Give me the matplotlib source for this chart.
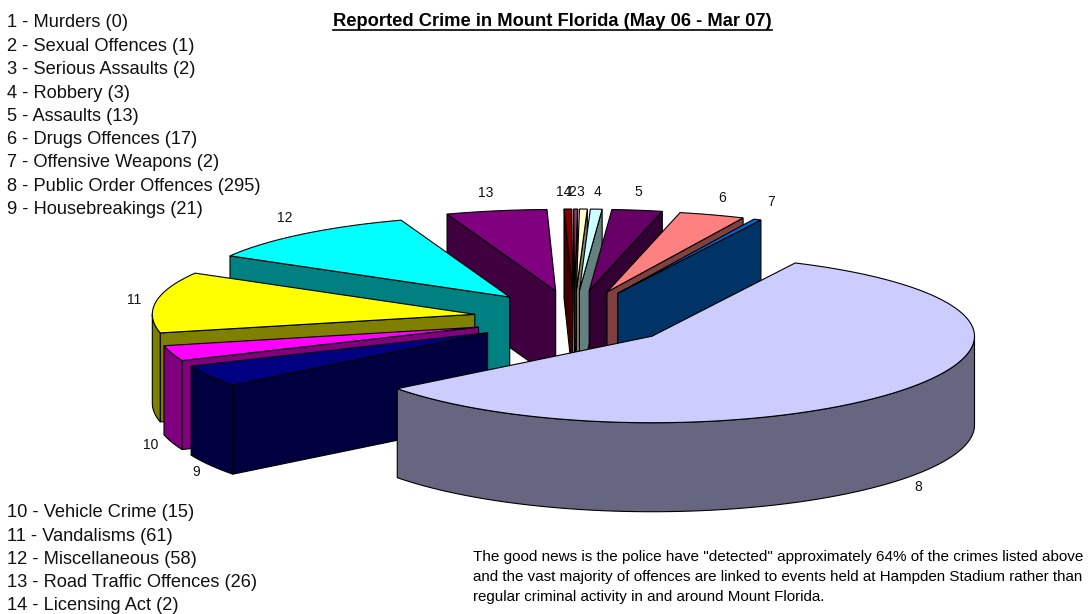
import math
import matplotlib
matplotlib.use("Agg")
import matplotlib.pyplot as plt
from matplotlib.patches import Polygon

plt.rcParams['font.family'] = ['Liberation Sans', 'DejaVu Sans']

# the chart data
names = ["Murders", "Sexual Offences", "Serious Assaults", "Robbery", "Assaults",
         "Drugs Offences", "Offensive Weapons", "Public Order Offences", "Housebreakings",
         "Vehicle Crime", "Vandalisms", "Miscellaneous", "Road Traffic Offences", "Licensing Act"]
counts = [0, 1, 2, 3, 13, 17, 2, 295, 21, 15, 61, 58, 26, 2]
top_colors = ["#9999FF", "#993366", "#FFFFCC", "#CCFFFF", "#660066", "#FF8080", "#0066CC",
              "#CCCCFF", "#000080", "#FF00FF", "#FFFF00", "#00FFFF", "#800080", "#800000"]

title = "Reported Crime in Mount Florida (May 06 - Mar 07)"
note = ['The good news is the police have "detected" approximately 64% of the crimes listed above',
        'and the vast majority of offences are linked to events held at Hampden Stadium rather than',
        'regular criminal activity in and around Mount Florida.']

# pie geometry in pixels
cx, cy = 574.2, 318.5
explode_x, explode_y = 100.5, 28.0
rx, ry = 322.5, 84.0
persp = 2.5
depth = 89.0
start_angle = -0.15

# where Excel put the slice numbers
label_x = [570, 572, 580, 598, 638, 722, 771, 918, 196, 151, 134, 285, 486, 564]
label_y = [192, 192, 192, 192, 192, 198, 202, 487, 472, 445, 300, 218, 193, 192]
list_y = [27, 51, 74, 98, 121, 144, 167, 191, 214, 517, 541, 564, 587, 610]

fig = plt.figure(figsize=(10.88, 6.14), dpi=100)
ax = fig.add_axes([0, 0, 1, 1])
ax.set_xlim(0, 1088)
ax.set_ylim(614, 0)
ax.axis("off")


def rim(ax_x, ax_y, angle):
    # point on the pie edge, angle is clockwise from the top
    s = math.sin(math.radians(angle))
    c = math.cos(math.radians(angle))
    return ax_x + rx * s, ax_y - ry * c + persp * c * c


def darker(color):
    r, g, b = matplotlib.colors.to_rgb(color)
    return (r * 0.5, g * 0.5, b * 0.5)


def add_poly(points, color):
    ax.add_patch(Polygon(points, closed=True, facecolor=color, edgecolor="black", linewidth=0.8))


# work out the angles for every slice
total = sum(counts)
slices = []
running = 0
for i, v in enumerate(counts):
    a1 = start_angle + running / total * 360
    a2 = start_angle + (running + v) / total * 360
    running += v
    slices.append((i, a1, a2))

# draw back to front
slices.sort(key=lambda t: -math.cos(math.radians((t[1] + t[2]) / 2)))

for i, a1, a2 in slices:
    if counts[i] == 0:
        continue
    mid = math.radians((a1 + a2) / 2)
    ox = cx + explode_x * math.sin(mid)
    oy = cy - explode_y * math.cos(mid)
    steps = max(2, int((a2 - a1) / 1.5))
    arc = [a1 + (a2 - a1) * k / steps for k in range(steps + 1)]
    side = darker(top_colors[i])

    # flat cut faces
    if math.sin(math.radians(a1)) < 0:
        p = rim(ox, oy, a1)
        add_poly([(ox, oy), p, (p[0], p[1] + depth), (ox, oy + depth)], side)
    if math.sin(math.radians(a2)) > 0:
        p = rim(ox, oy, a2)
        add_poly([(ox, oy), p, (p[0], p[1] + depth), (ox, oy + depth)], side)

    # outer wall, only the part that faces us
    w1, w2 = max(a1, 90), min(a2, 270)
    if w2 > w1:
        n = max(2, int((w2 - w1) / 1.5))
        upper = [rim(ox, oy, w1 + (w2 - w1) * k / n) for k in range(n + 1)]
        lower = [(x, y + depth) for x, y in reversed(upper)]
        add_poly(upper + lower, side)

    # top of the slice
    add_poly([(ox, oy)] + [rim(ox, oy, t) for t in arc], top_colors[i])

# slice numbers
for i in range(len(counts)):
    ax.text(label_x[i], label_y[i], str(i + 1), fontsize=10, color="#111111", ha="center", va="center")

# list of crimes
for i in range(len(counts)):
    ax.text(7, list_y[i], f"{i + 1} - {names[i]} ({counts[i]})", fontsize=13.15,
            color="#111111", ha="left", va="baseline")

# title with underline
t = ax.text(552.5, 21, title, fontsize=13.2, fontweight="bold", color="black", ha="center", va="center")
fig.canvas.draw()
box = t.get_window_extent()
ax.plot([box.x0, box.x1], [30, 30], color="black", linewidth=1.2)

# note under the chart
note_y = [557, 577, 597]
note_size = [11.0, 10.92, 10.9]
for line, y, size in zip(note, note_y, note_size):
    ax.text(473, y, line, fontsize=size, color="black", ha="left", va="center")

fig.savefig("out.png", dpi=100)
